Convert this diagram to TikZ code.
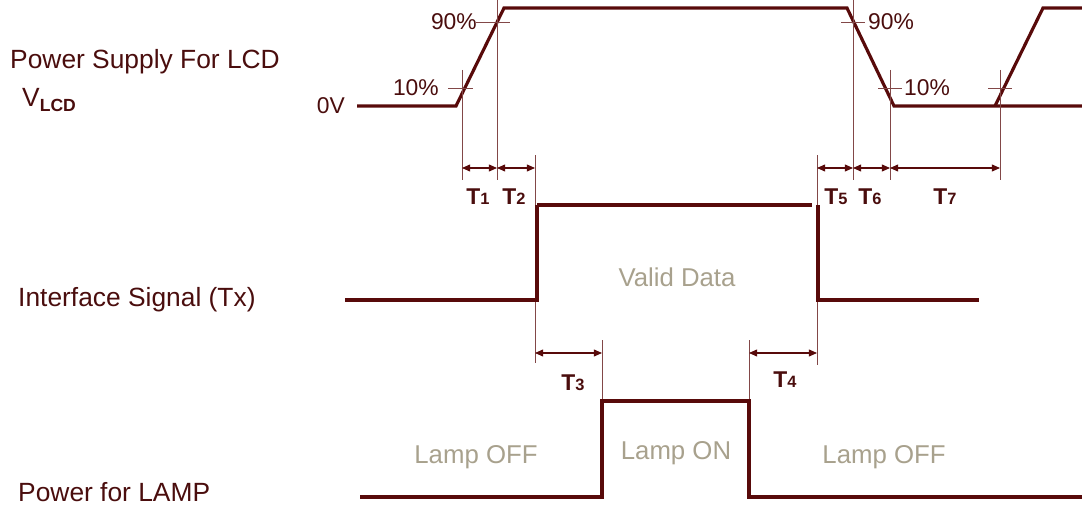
\documentclass[tikz,border=0pt]{standalone}
\usepackage{fontspec}
\setmainfont{Liberation Sans}
\usepackage{tikz}
\usetikzlibrary{arrows.meta}
\definecolor{wave}{HTML}{580A0A}
\definecolor{ink}{HTML}{4A0D0D}
\definecolor{note}{HTML}{A8A18D}

\begin{document}
\begin{tikzpicture}[
  x=0.03cm, y=-0.03cm,
  sig/.style={wave, line width=2.7pt, line join=miter},
  edge/.style={wave, line width=4.2pt},
  guide/.style={wave!75, line width=0.8pt},
  dim/.style={{Triangle[length=7pt,width=6pt]}-{Triangle[length=7pt,width=6pt]},
              wave, line width=0.9pt},
  txt/.style={ink, font=\fontsize{22.5}{26}\selectfont, inner sep=0pt},
  pct/.style={ink, font=\fontsize{19.5}{22}\selectfont, inner sep=0pt},
  tlab/.style={ink, font=\fontsize{19.5}{22}\selectfont\bfseries, inner sep=0pt},
  state/.style={note, font=\fontsize{22}{26}\selectfont, inner sep=0pt},
]
\useasboundingbox (0,0) rectangle (1082,506);

% supply waveform
\coordinate (r0) at (456,106);
\coordinate (r1) at (504,8);
\coordinate (f0) at (847,8);
\coordinate (f1) at (894,106);
\draw[sig] (357,106) -- (r0) -- (r1) -- (f0) -- (f1) -- (1082,106);
\draw[sig] (995,106) -- (1043,8) -- (1082,8);

% 10% / 90% marks
\draw[guide] (448,88) -- (473,88);
\draw[guide] (476,22) -- (510,22);
\draw[guide] (841,22) -- (865,22);
\draw[guide] (878,88) -- (902,88);
\draw[guide] (988,88) -- (1012,88);
\draw[guide] (462,70) -- (462,180);
\draw[guide] (497,0) -- (497,180);
\draw[guide] (853,0) -- (853,180);
\draw[guide] (890,70) -- (890,180);
\draw[guide] (1000,70) -- (1000,180);
\draw[guide] (535,155) -- (535,363);
\draw[guide] (817,155) -- (817,365);

\node[pct, anchor=east] (p90a) at (477,22) {90\%};
\node[pct, anchor=east] (p10a) at (439,88) {10\%};
\node[pct, anchor=west] (p90b) at (868,22) {90\%};
\node[pct, anchor=west] (p10b) at (904,88) {10\%};
\node[pct, anchor=east] (zero) at (345,106) {0V};

% supply timings
\coordinate (d1) at (462,168);
\coordinate (d2) at (497,168);
\coordinate (d3) at (535,168);
\coordinate (d5) at (817,168);
\coordinate (d6) at (853,168);
\coordinate (d7) at (890,168);
\coordinate (d8) at (1000,168);
\draw[dim] (d1) -- (d2);
\draw[dim] (d2) -- (d3);
\draw[dim] (d5) -- (d6);
\draw[dim] (d6) -- (d7);
\draw[dim] (d7) -- (d8);
\node[tlab] (t1) at (478,197) {T{\fontsize{14}{16}\selectfont 1}};
\node[tlab] (t2) at (514,197) {T{\fontsize{14}{16}\selectfont 2}};
\node[tlab] (t5) at (836,197) {T{\fontsize{14}{16}\selectfont 5}};
\node[tlab] (t6) at (870,197) {T{\fontsize{14}{16}\selectfont 6}};
\node[tlab] (t7) at (945,197) {T{\fontsize{14}{16}\selectfont 7}};

% interface signal
\draw[sig] (345,300) -- (537,300);
\draw[sig] (537,205) -- (812,205);
\draw[sig] (818,300) -- (979,300);
\draw[edge] (537,302) -- (537,205);
\draw[edge] (818,205) -- (818,302);
\node[state] (valid) at (677,277) {Valid Data};

% lamp timings
\draw[guide] (602,340) -- (602,400);
\draw[guide] (749,340) -- (749,400);
\coordinate (e1) at (535,353);
\coordinate (e2) at (602,353);
\coordinate (e3) at (749,353);
\coordinate (e4) at (817,353);
\draw[dim] (e1) -- (e2);
\draw[dim] (e3) -- (e4);
\node[tlab] (t3) at (573,383) {T{\fontsize{14}{16}\selectfont 3}};
\node[tlab] (t4) at (785,380) {T{\fontsize{14}{16}\selectfont 4}};

% lamp power
\draw[sig] (360,497) -- (602,497) -- (602,401) -- (749,401) -- (749,497) -- (1082,497);
\node[state] (off1) at (476,457) {Lamp OFF};
\node[state] (on) at (676,453) {Lamp ON};
\node[state] (off2) at (884,457) {Lamp OFF};

% row names
\node[txt, anchor=west] (supply) at (10,62) {Power Supply For LCD};
\node[txt, anchor=west] (vlcd) at (22,100) {V\raisebox{-0.35ex}{\fontsize{15}{17}\selectfont\bfseries LCD}};
\node[txt, anchor=west] (iface) at (18,300) {Interface Signal (Tx)};
\node[txt, anchor=west] (lamp) at (18,492) {Power for LAMP};
\end{tikzpicture}
\end{document}
